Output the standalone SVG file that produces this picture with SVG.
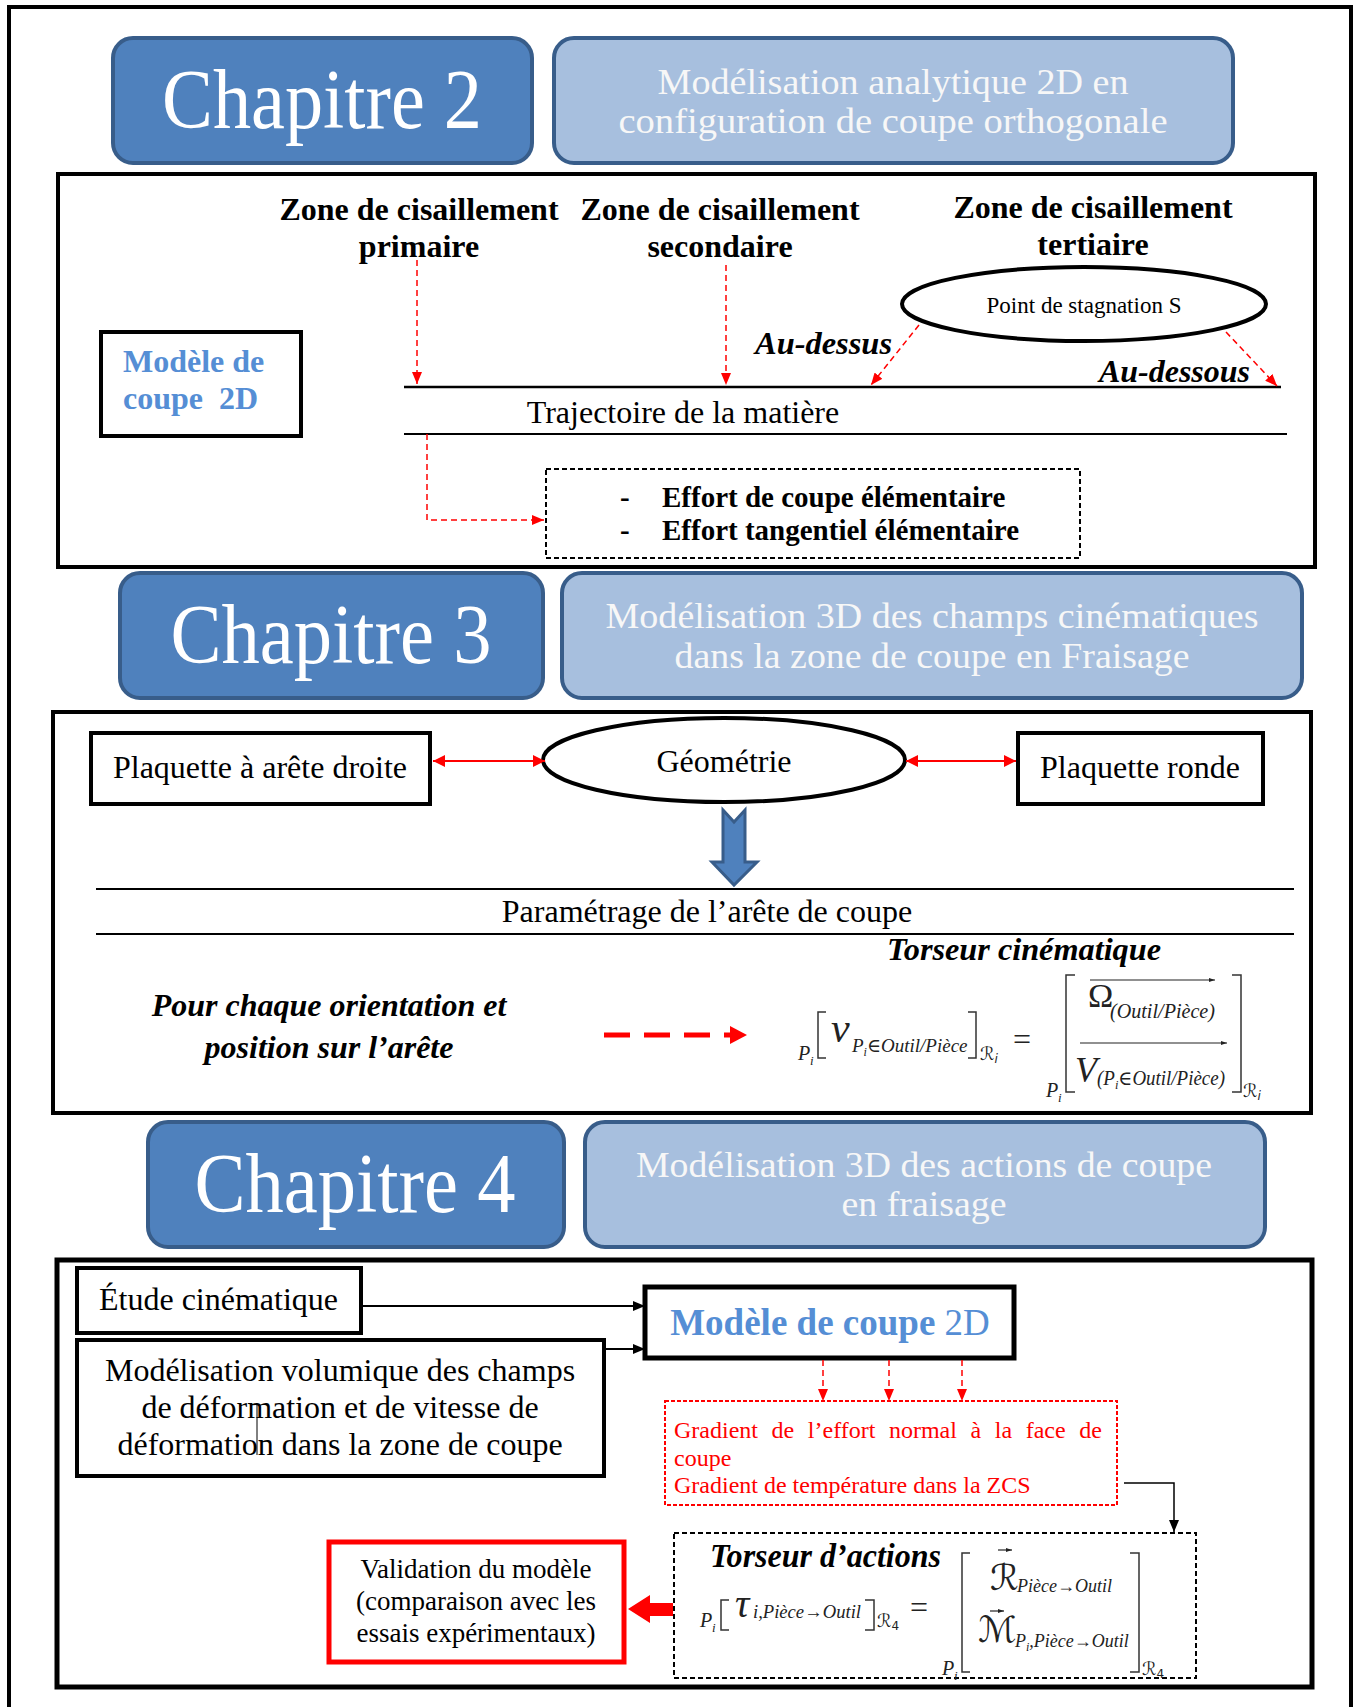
<svg xmlns="http://www.w3.org/2000/svg" width="1362" height="1707" viewBox="0 0 1362 1707">
<style>
text{font-family:"Liberation Serif","DejaVu Serif",serif;fill:#000}
.frame{fill:none;stroke:#000;stroke-width:4}
.box{fill:#fff;stroke:#000;stroke-width:4}
.ch{fill:#4F81BD;stroke:#385D8A;stroke-width:4}
.chl{fill:#A7BFDE;stroke:#385D8A;stroke-width:4}
.cht{fill:#fff;font-size:84px;text-anchor:middle}
.clt{fill:#F7F7F7;font-size:35px;text-anchor:middle}
.t{font-size:32px}
.c{text-anchor:middle}
.b{font-weight:bold}
.bi{font-weight:bold;font-style:italic}
.blue{fill:#558ED5}
.rdash{fill:none;stroke:#f00;stroke-width:1.5;stroke-dasharray:6 4}
.line{stroke:#000;fill:none}
.m{fill:#222;font-style:italic}
.mu{fill:#222}
.sc{fill:#222;font-family:"DejaVu Sans","Liberation Serif",sans-serif}
.br{fill:none;stroke:#333;stroke-width:1.5}
.red{fill:#f00;font-size:24px}
</style>
<defs>
<marker id="ar" viewBox="0 0 12 10" refX="12" refY="5" markerWidth="12" markerHeight="10" markerUnits="userSpaceOnUse" orient="auto"><path d="M0,0 L12,5 L0,10 z" fill="#f00"/></marker>
<marker id="ar2" viewBox="0 0 12 12" refX="12" refY="6" markerWidth="12" markerHeight="12" markerUnits="userSpaceOnUse" orient="auto-start-reverse"><path d="M0,0 L12,6 L0,12 z" fill="#f00"/></marker>
<marker id="ak" viewBox="0 0 12 10" refX="12" refY="5" markerWidth="12" markerHeight="10" markerUnits="userSpaceOnUse" orient="auto"><path d="M0,0 L12,5 L0,10 z" fill="#000"/></marker>
<marker id="av" viewBox="0 0 6 4" refX="6" refY="2" markerWidth="6" markerHeight="4" markerUnits="userSpaceOnUse" orient="auto"><path d="M0,0 L6,2 L0,4 z" fill="#222"/></marker>
</defs>

<rect id="outer-frame" x="9" y="7" width="1342" height="1760" class="frame"/>

<!-- Chapter 2 -->
<g id="chapitre2">
<rect x="113" y="38" width="419" height="125" rx="20" class="ch"/>
<text x="322" y="128" class="cht" textLength="320" lengthAdjust="spacingAndGlyphs">Chapitre 2</text>
</g>
<g id="titre2">
<rect x="554" y="38" width="679" height="125" rx="20" class="chl"/>
<text x="893" y="94" class="clt" textLength="471" lengthAdjust="spacingAndGlyphs">Modélisation analytique 2D en</text>
<text x="893" y="133" class="clt" textLength="549" lengthAdjust="spacingAndGlyphs">configuration de coupe orthogonale</text>
</g>

<g id="section2">
<rect x="58" y="174" width="1257" height="393" class="frame"/>
</g>
<g id="zone-primaire">
<text x="419" y="220" class="t b c">Zone de cisaillement</text>
<text x="419" y="257" class="t b c">primaire</text>
</g>
<g id="zone-secondaire">
<text x="720" y="220" class="t b c">Zone de cisaillement</text>
<text x="720" y="257" class="t b c">secondaire</text>
</g>
<g id="zone-tertiaire">
<text x="1093" y="218" class="t b c">Zone de cisaillement</text>
<text x="1093" y="255" class="t b c">tertiaire</text>
</g>
<g id="point-stagnation">
<ellipse cx="1084" cy="304" rx="182" ry="37" fill="#fff" stroke="#000" stroke-width="4"/>
<text x="1084" y="313" class="c" font-size="23">Point de stagnation S</text>
</g>
<g id="modele-2d">
<rect x="101" y="332" width="200" height="104" class="box"/>
<text x="123" y="372" class="t b blue">Modèle de</text>
<text x="123" y="409" class="t b blue" xml:space="preserve">coupe  2D</text>
</g>
<g id="trajectoire">
<line x1="404" y1="387" x2="1281" y2="387" class="line" stroke-width="2.5"/>
<line x1="404" y1="434" x2="1287" y2="434" class="line" stroke-width="2"/>
<text x="683" y="423" class="t c">Trajectoire de la matière</text>
</g>
<g id="labels-au">
<text x="755" y="354" class="t bi" textLength="137" lengthAdjust="spacingAndGlyphs">Au-dessus</text>
<text x="1099" y="382" class="t bi" textLength="151" lengthAdjust="spacingAndGlyphs">Au-dessous</text>
</g>
<g id="efforts">
<rect x="546" y="469" width="534" height="89" fill="#fff" stroke="#000" stroke-width="2" stroke-dasharray="5 3"/>
<text x="620" y="507" class="b" font-size="29">-</text>
<text x="662" y="507" class="b" font-size="29">Effort de coupe élémentaire</text>
<text x="620" y="540" class="b" font-size="29">-</text>
<text x="662" y="540" class="b" font-size="29">Effort tangentiel élémentaire</text>
</g>

<!-- Chapter 3 -->
<g id="chapitre3">
<rect x="120" y="573" width="423" height="125" rx="20" class="ch"/>
<text x="331" y="663" class="cht" textLength="321" lengthAdjust="spacingAndGlyphs">Chapitre 3</text>
</g>
<g id="titre3">
<rect x="562" y="573" width="740" height="125" rx="20" class="chl"/>
<text x="932" y="628" class="clt" textLength="653" lengthAdjust="spacingAndGlyphs">Modélisation 3D des champs cinématiques</text>
<text x="932" y="668" class="clt" textLength="515" lengthAdjust="spacingAndGlyphs">dans la zone de coupe en Fraisage</text>
</g>

<g id="section3">
<rect x="53" y="712" width="1258" height="401" class="frame"/>
</g>
<g id="plaquette-droite">
<rect x="91" y="733" width="339" height="71" class="box"/>
<text x="260" y="778" class="t c">Plaquette à arête droite</text>
</g>
<g id="geometrie">
<ellipse cx="724" cy="760" rx="181" ry="42" fill="#fff" stroke="#000" stroke-width="4"/>
<text x="724" y="772" class="t c">Géométrie</text>
</g>
<g id="plaquette-ronde">
<rect x="1018" y="733" width="245" height="71" class="box"/>
<text x="1140" y="778" class="t c">Plaquette ronde</text>
</g>
<g id="parametrage">
<line x1="96" y1="889" x2="1294" y2="889" class="line" stroke-width="2"/>
<line x1="96" y1="934" x2="1294" y2="934" class="line" stroke-width="2"/>
<text x="707" y="922" class="t c">Paramétrage de l’arête de coupe</text>
</g>
<g id="orientation">
<text x="329" y="1016" class="t bi c">Pour chaque orientation et</text>
<text x="329" y="1058" class="t bi c">position sur l’arête</text>
</g>
<g id="torseur-cinematique">
<text x="887" y="960" class="t bi" textLength="274" lengthAdjust="spacingAndGlyphs">Torseur cinématique</text>
<text x="798" y="1060" class="m" font-size="20">P</text><text x="810" y="1065" class="m" font-size="13">i</text>
<path d="M826,1012 H818 V1058 H826" class="br"/>
<text x="831" y="1042" class="m" font-size="42">ν</text>
<text x="852" y="1052" class="m" font-size="19">P<tspan font-size="12" dy="4">i</tspan><tspan dy="-4" font-style="normal">∈</tspan>Outil/Pièce</text>
<path d="M968,1012 H976 V1058 H968" class="br"/>
<text x="980" y="1060" class="sc" font-size="18">ℛ<tspan font-size="12" dy="3" font-style="italic">i</tspan></text>
<text x="1022" y="1050" class="mu c" font-size="32">=</text>
<text x="1046" y="1097" class="m" font-size="20">P</text><text x="1058" y="1102" class="m" font-size="13">i</text>
<path d="M1075,975 H1066 V1092 H1075" class="br"/>
<text x="1088" y="1007" class="mu" font-size="34">Ω</text>
<line x1="1090" y1="980" x2="1215" y2="980" stroke="#222" stroke-width="1.2" marker-end="url(#av)"/>
<text x="1110" y="1018" class="m" font-size="20" textLength="105" lengthAdjust="spacingAndGlyphs">(Outil/Pièce)</text>
<line x1="1080" y1="1043" x2="1227" y2="1043" stroke="#222" stroke-width="1.2" marker-end="url(#av)"/>
<text x="1075" y="1082" class="m" font-size="36">V</text>
<text x="1097" y="1085" class="m" font-size="20" textLength="128" lengthAdjust="spacingAndGlyphs">(P<tspan font-size="13" dy="4">i</tspan><tspan dy="-4" font-style="normal">∈</tspan>Outil/Pièce)</text>
<path d="M1232,975 H1241 V1092 H1232" class="br"/>
<text x="1243" y="1097" class="sc" font-size="18">ℛ<tspan font-size="12" dy="3" font-style="italic">i</tspan></text>
</g>

<!-- Chapter 4 -->
<g id="chapitre4">
<rect x="148" y="1122" width="416" height="125" rx="20" class="ch"/>
<text x="355" y="1212" class="cht" textLength="321" lengthAdjust="spacingAndGlyphs">Chapitre 4</text>
</g>
<g id="titre4">
<rect x="585" y="1122" width="680" height="125" rx="20" class="chl"/>
<text x="924" y="1177" class="clt" textLength="576" lengthAdjust="spacingAndGlyphs">Modélisation 3D des actions de coupe</text>
<text x="924" y="1216" class="clt" textLength="165" lengthAdjust="spacingAndGlyphs">en fraisage</text>
</g>

<g id="section4">
<rect x="57" y="1260" width="1255" height="427" fill="none" stroke="#000" stroke-width="5"/>
</g>
<g id="etude-cinematique">
<rect x="77" y="1268" width="284" height="65" class="box"/>
<text x="99" y="1310" font-size="32">Étude cinématique</text>
</g>
<g id="modelisation-volumique">
<rect x="77" y="1340" width="527" height="136" class="box"/>
<text x="340" y="1381" class="t c">Modélisation volumique des champs</text>
<text x="340" y="1418" class="t c">de déformation et de vitesse de</text>
<text x="340" y="1455" class="t c">déformation dans la zone de coupe</text>
<line x1="257" y1="1405" x2="257" y2="1455" stroke="#000" stroke-width="1"/>
</g>
<g id="modele-coupe-2d">
<rect x="645" y="1287" width="369" height="71" fill="#fff" stroke="#000" stroke-width="5"/>
<text x="830" y="1335" class="c blue" font-size="37"><tspan font-weight="bold">Modèle de coupe </tspan>2D</text>
</g>
<g id="gradients">
<rect x="665" y="1401" width="452" height="104" fill="#fff" stroke="#f00" stroke-width="2" stroke-dasharray="4 2"/>
<text x="674" y="1438" class="red" word-spacing="7.6">Gradient de l’effort normal à la face de</text>
<text x="674" y="1466" class="red">coupe</text>
<text x="674" y="1493" class="red">Gradient de température dans la ZCS</text>
</g>
<g id="validation">
<rect x="329" y="1542" width="295" height="120" fill="#fff" stroke="#f00" stroke-width="5"/>
<text x="476" y="1578" class="c" font-size="27">Validation du modèle</text>
<text x="476" y="1610" class="c" font-size="27">(comparaison avec les</text>
<text x="476" y="1642" class="c" font-size="27">essais expérimentaux)</text>
</g>
<g id="torseur-actions">
<rect x="674" y="1533" width="522" height="145" fill="#fff" stroke="#000" stroke-width="2" stroke-dasharray="5 3"/>
<text x="710" y="1567" class="bi" font-size="34" textLength="231" lengthAdjust="spacingAndGlyphs">Torseur d’actions</text>
<text x="700" y="1627" class="m" font-size="20">P</text><text x="712" y="1632" class="m" font-size="13">i</text>
<path d="M729,1600 H721 V1630 H729" class="br"/>
<text x="735" y="1617" class="m" font-size="40">τ</text>
<text x="753" y="1618" class="m" font-size="19" textLength="108" lengthAdjust="spacingAndGlyphs">i,Pièce→Outil</text>
<path d="M865,1600 H874 V1630 H865" class="br"/>
<text x="877" y="1627" class="sc" font-size="18">ℛ<tspan font-size="12" dy="3">4</tspan></text>
<text x="919" y="1618" class="mu c" font-size="32">=</text>
<text x="942" y="1675" class="m" font-size="20">P</text><text x="954" y="1680" class="m" font-size="13">i</text>
<path d="M970,1553 H962 V1672 H970" class="br"/>
<text x="990" y="1590" class="sc" font-size="36">ℛ</text>
<line x1="998" y1="1550" x2="1012" y2="1550" stroke="#222" stroke-width="1.2" marker-end="url(#av)"/>
<text x="1017" y="1592" class="m" font-size="18" textLength="95" lengthAdjust="spacingAndGlyphs">Pièce→Outil</text>
<text x="978" y="1642" class="sc" font-size="36">ℳ</text>
<line x1="990" y1="1611" x2="1004" y2="1611" stroke="#222" stroke-width="1.2" marker-end="url(#av)"/>
<text x="1015" y="1647" class="m" font-size="18">P<tspan font-size="12" dy="4">i</tspan><tspan dy="-4">,Pièce→Outil</tspan></text>
<path d="M1130,1553 H1139 V1672 H1130" class="br"/>
<text x="1142" y="1675" class="sc" font-size="18">ℛ<tspan font-size="12" dy="3">4</tspan></text>
</g>

<g id="connectors">
<line x1="417" y1="260" x2="417" y2="384" class="rdash" marker-end="url(#ar)"/>
<line x1="726" y1="265" x2="726" y2="385" class="rdash" marker-end="url(#ar)"/>
<line x1="919" y1="325" x2="871" y2="385" class="rdash" marker-end="url(#ar)"/>
<line x1="1226" y1="332" x2="1277" y2="386" class="rdash" marker-end="url(#ar)"/>
<path d="M427,434 V520 H544" class="rdash" marker-end="url(#ar)"/>
<line x1="433" y1="761" x2="545" y2="761" stroke="#f00" stroke-width="2" marker-start="url(#ar2)" marker-end="url(#ar2)"/>
<line x1="906" y1="761" x2="1016" y2="761" stroke="#f00" stroke-width="2" marker-start="url(#ar2)" marker-end="url(#ar2)"/>
<polygon points="723,810 734,822 745,810 745,862 757,862 734,885 712,862 723,862" fill="#4F81BD" stroke="#385D8A" stroke-width="3" stroke-linejoin="miter"/>
<line x1="604" y1="1035" x2="732" y2="1035" stroke="#f00" stroke-width="5" stroke-dasharray="26 14"/>
<polygon points="730,1026 747,1035 730,1044" fill="#f00"/>
<line x1="361" y1="1306" x2="645" y2="1306" stroke="#000" stroke-width="2" marker-end="url(#ak)"/>
<line x1="604" y1="1349" x2="645" y2="1349" stroke="#000" stroke-width="2" marker-end="url(#ak)"/>
<line x1="823" y1="1360" x2="823" y2="1401" class="rdash" marker-end="url(#ar)"/>
<line x1="889" y1="1360" x2="889" y2="1401" class="rdash" marker-end="url(#ar)"/>
<line x1="962" y1="1360" x2="962" y2="1401" class="rdash" marker-end="url(#ar)"/>
<path d="M1124,1483 H1174 V1532" fill="none" stroke="#000" stroke-width="1.5" marker-end="url(#ak)"/>
<polygon points="628,1609 650,1595 650,1603 673,1603 673,1616 650,1616 650,1623" fill="#f00"/>
</g>
</svg>
